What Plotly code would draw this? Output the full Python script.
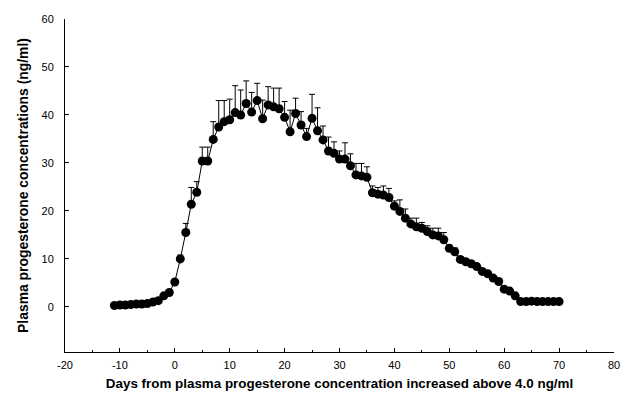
import plotly.graph_objects as go

# Days relative to the day plasma progesterone first rose above 4.0 ng/ml
days = list(range(-11, 71))

# Mean plasma progesterone (ng/ml)
mean_p4 = [
    0.3, 0.4, 0.4, 0.5, 0.6, 0.6, 0.7, 1.0, 1.3, 2.3, 3.0,          # -11 .. -1
    5.2, 10.0, 15.5, 21.4, 23.9, 30.4, 30.4, 34.9, 37.5, 38.6,     # 0 .. 9
    39.0, 40.5, 40.0, 42.4, 40.6, 43.0, 39.2, 42.1, 41.7, 41.3,    # 10 .. 19
    39.5, 36.5, 40.3, 37.9, 35.5, 39.3, 36.7, 34.8, 32.5, 32.0,    # 20 .. 29
    30.8, 30.8, 29.4, 27.5, 27.3, 27.0, 23.8, 23.5, 23.3, 22.8,    # 30 .. 39
    21.0, 19.9, 18.5, 17.3, 16.7, 16.4, 15.7, 15.0, 14.8, 14.0,    # 40 .. 49
    12.2, 11.5, 9.9, 9.4, 9.0, 8.4, 7.4, 6.9, 6.0, 5.3,            # 50 .. 59
    3.7, 3.3, 2.3, 1.1, 1.1, 1.2, 1.1, 1.1, 1.1, 1.1,              # 60 .. 69
    1.1,                                                           # 70
]

# Upper standard error (ng/ml)
sem_p4 = [
    0.2, 0.2, 0.2, 0.2, 0.2, 0.2, 0.2, 0.3, 0.3, 0.4, 0.4,
    0.5, 0.8, 1.9, 3.5, 2.2, 2.9, 2.9, 3.7, 5.5, 4.4,
    4.3, 5.6, 5.2, 4.7, 4.1, 3.6, 3.9, 3.8, 3.9, 4.3,
    3.3, 4.5, 3.2, 2.8, 1.7, 5.0, 4.8, 2.9, 2.9, 2.4,
    1.7, 3.4, 2.5, 2.4, 2.6, 2.2, 1.4, 1.4, 1.9, 1.9,
    1.1, 2.4, 1.9, 1.2, 1.8, 1.2, 1.2, 1.4, 1.6, 1.5,
    0.7, 0.8, 0.6, 0.5, 0.5, 0.5, 0.5, 0.5, 0.4, 0.4,
    0.4, 0.4, 0.3, 0.2, 0.2, 0.2, 0.2, 0.2, 0.2, 0.2,
    0.2,
]

x_ticks = [-20, -10, 0, 10, 20, 30, 40, 50, 60, 70, 80]
y_ticks = [0, 10, 20, 30, 40, 50, 60]

font_family = "Liberation Sans, Arial, sans-serif"

fig = go.Figure(
    go.Scatter(
        x=days,
        y=mean_p4,
        mode="lines+markers",
        line=dict(color="black", width=1),
        marker=dict(color="black", size=9, symbol="circle"),
        error_y=dict(
            type="data",
            symmetric=False,
            array=sem_p4,
            arrayminus=[0] * len(sem_p4),
            color="black",
            thickness=1,
            width=3,
        ),
        showlegend=False,
    )
)

fig.update_layout(
    width=630,
    height=397,
    margin=dict(l=65, r=16, t=19, b=45),
    paper_bgcolor="white",
    plot_bgcolor="white",
    font=dict(family=font_family, color="black", size=11),
    xaxis=dict(
        range=[-20, 80],
        tickvals=x_ticks,
        ticktext=[str(v) for v in x_ticks],
        ticks="inside",
        ticklen=4,
        tickwidth=1,
        tickcolor="black",
        minor=dict(dtick=5, ticks="inside", ticklen=2, tickcolor="black"),
        showline=True,
        linecolor="black",
        linewidth=1,
        showgrid=False,
        zeroline=False,
        automargin=False,
        ticklabelstandoff=3,
        tickfont=dict(size=11),
        title=dict(
            text="<b>Days from plasma progesterone concentration increased above 4.0 ng/ml</b>",
            font=dict(size=13.4),
            standoff=8,
        ),
    ),
    yaxis=dict(
        range=[-9.4, 60],
        tickvals=y_ticks,
        ticks="inside",
        ticklen=4,
        tickwidth=1,
        tickcolor="black",
        showline=True,
        linecolor="black",
        linewidth=1,
        showgrid=False,
        zeroline=False,
        automargin=False,
        ticklabelstandoff=8,
        tickfont=dict(size=11),
        title=dict(
            text="<b>Plasma progesterone concentrations (ng/ml)</b>",
            font=dict(size=13.9),
            standoff=9,
        ),
    ),
)

fig.write_html("out.html")
